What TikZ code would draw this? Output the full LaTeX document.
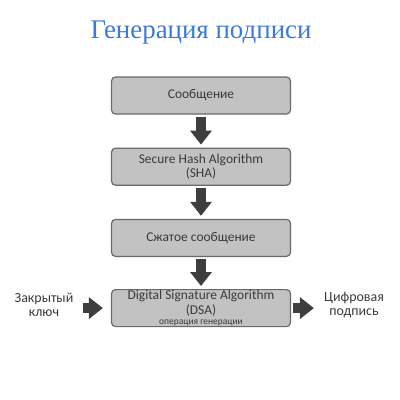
\documentclass[tikz,border=0pt]{standalone}
\usepackage{xcolor}
\usepackage{fontspec}
\setmainfont{Carlito}
\newfontfamily\titlefont{Liberation Serif}
\usepackage{tikz}
\usetikzlibrary{arrows.meta,positioning}

\definecolor{titleblue}{HTML}{3A7BD5}
\definecolor{boxgray}{HTML}{C2C2C2}
\definecolor{edgegray}{HTML}{6A6A6A}
\definecolor{arrowgray}{HTML}{3E3E3E}
\definecolor{textgray}{HTML}{3A3A3A}

\begin{document}
\begin{tikzpicture}[x=1bp,y=-1bp,
        stage/.style={draw=edgegray, line width=1.2bp, fill=boxgray, rounded corners=4bp,
            minimum width=179bp, minimum height=37bp, inner sep=0pt, align=center,
            text=textgray, font=\fontsize{13.5}{14.5}\selectfont},
        side/.style={align=center, text=textgray, inner sep=0pt, font=\fontsize{14}{14}\selectfont},
        flow/.style={draw=arrowgray, line width=10bp, -{Triangle[width=21bp,length=14bp]}}]
            \useasboundingbox (0,0) rectangle (400,400);

            % Title
            \node[text=titleblue, font=\titlefont\fontsize{27}{30}\selectfont] (title) at (201,33) {Генерация подписи};

            % Stages
            \node[stage] (msg) at (201,95.5) {Сообщение};
            \node[stage, below=33bp of msg] (sha) {Secure Hash Algorithm\\(SHA)};
            \node[stage, below=33bp of sha] (digest) {Сжатое сообщение};
            \node[stage, below=32bp of digest] (dsa) {Digital Signature Algorithm\\(DSA)\\[-4.5bp]{\fontsize{9.5}{10}\selectfont операция генерации}};

            % Key and signature
            \node[side] (key) at (44,305) {Закрытый\\ключ};
            \node[side] (sign) at (354,305) {Цифровая\\подпись};

            % Arrows
            \foreach \a/\b in {msg/sha, sha/digest, digest/dsa}
                \draw[flow, shorten <=2bp, shorten >=3bp] (\a) -- (\b);
            \draw[flow, shorten <=9bp, shorten >=8bp] (key.east |- dsa) -- (dsa);
            \draw[flow, shorten <=2bp, shorten >=10bp] (dsa) -- (sign.west |- dsa);
         \end{tikzpicture}
\end{document}
